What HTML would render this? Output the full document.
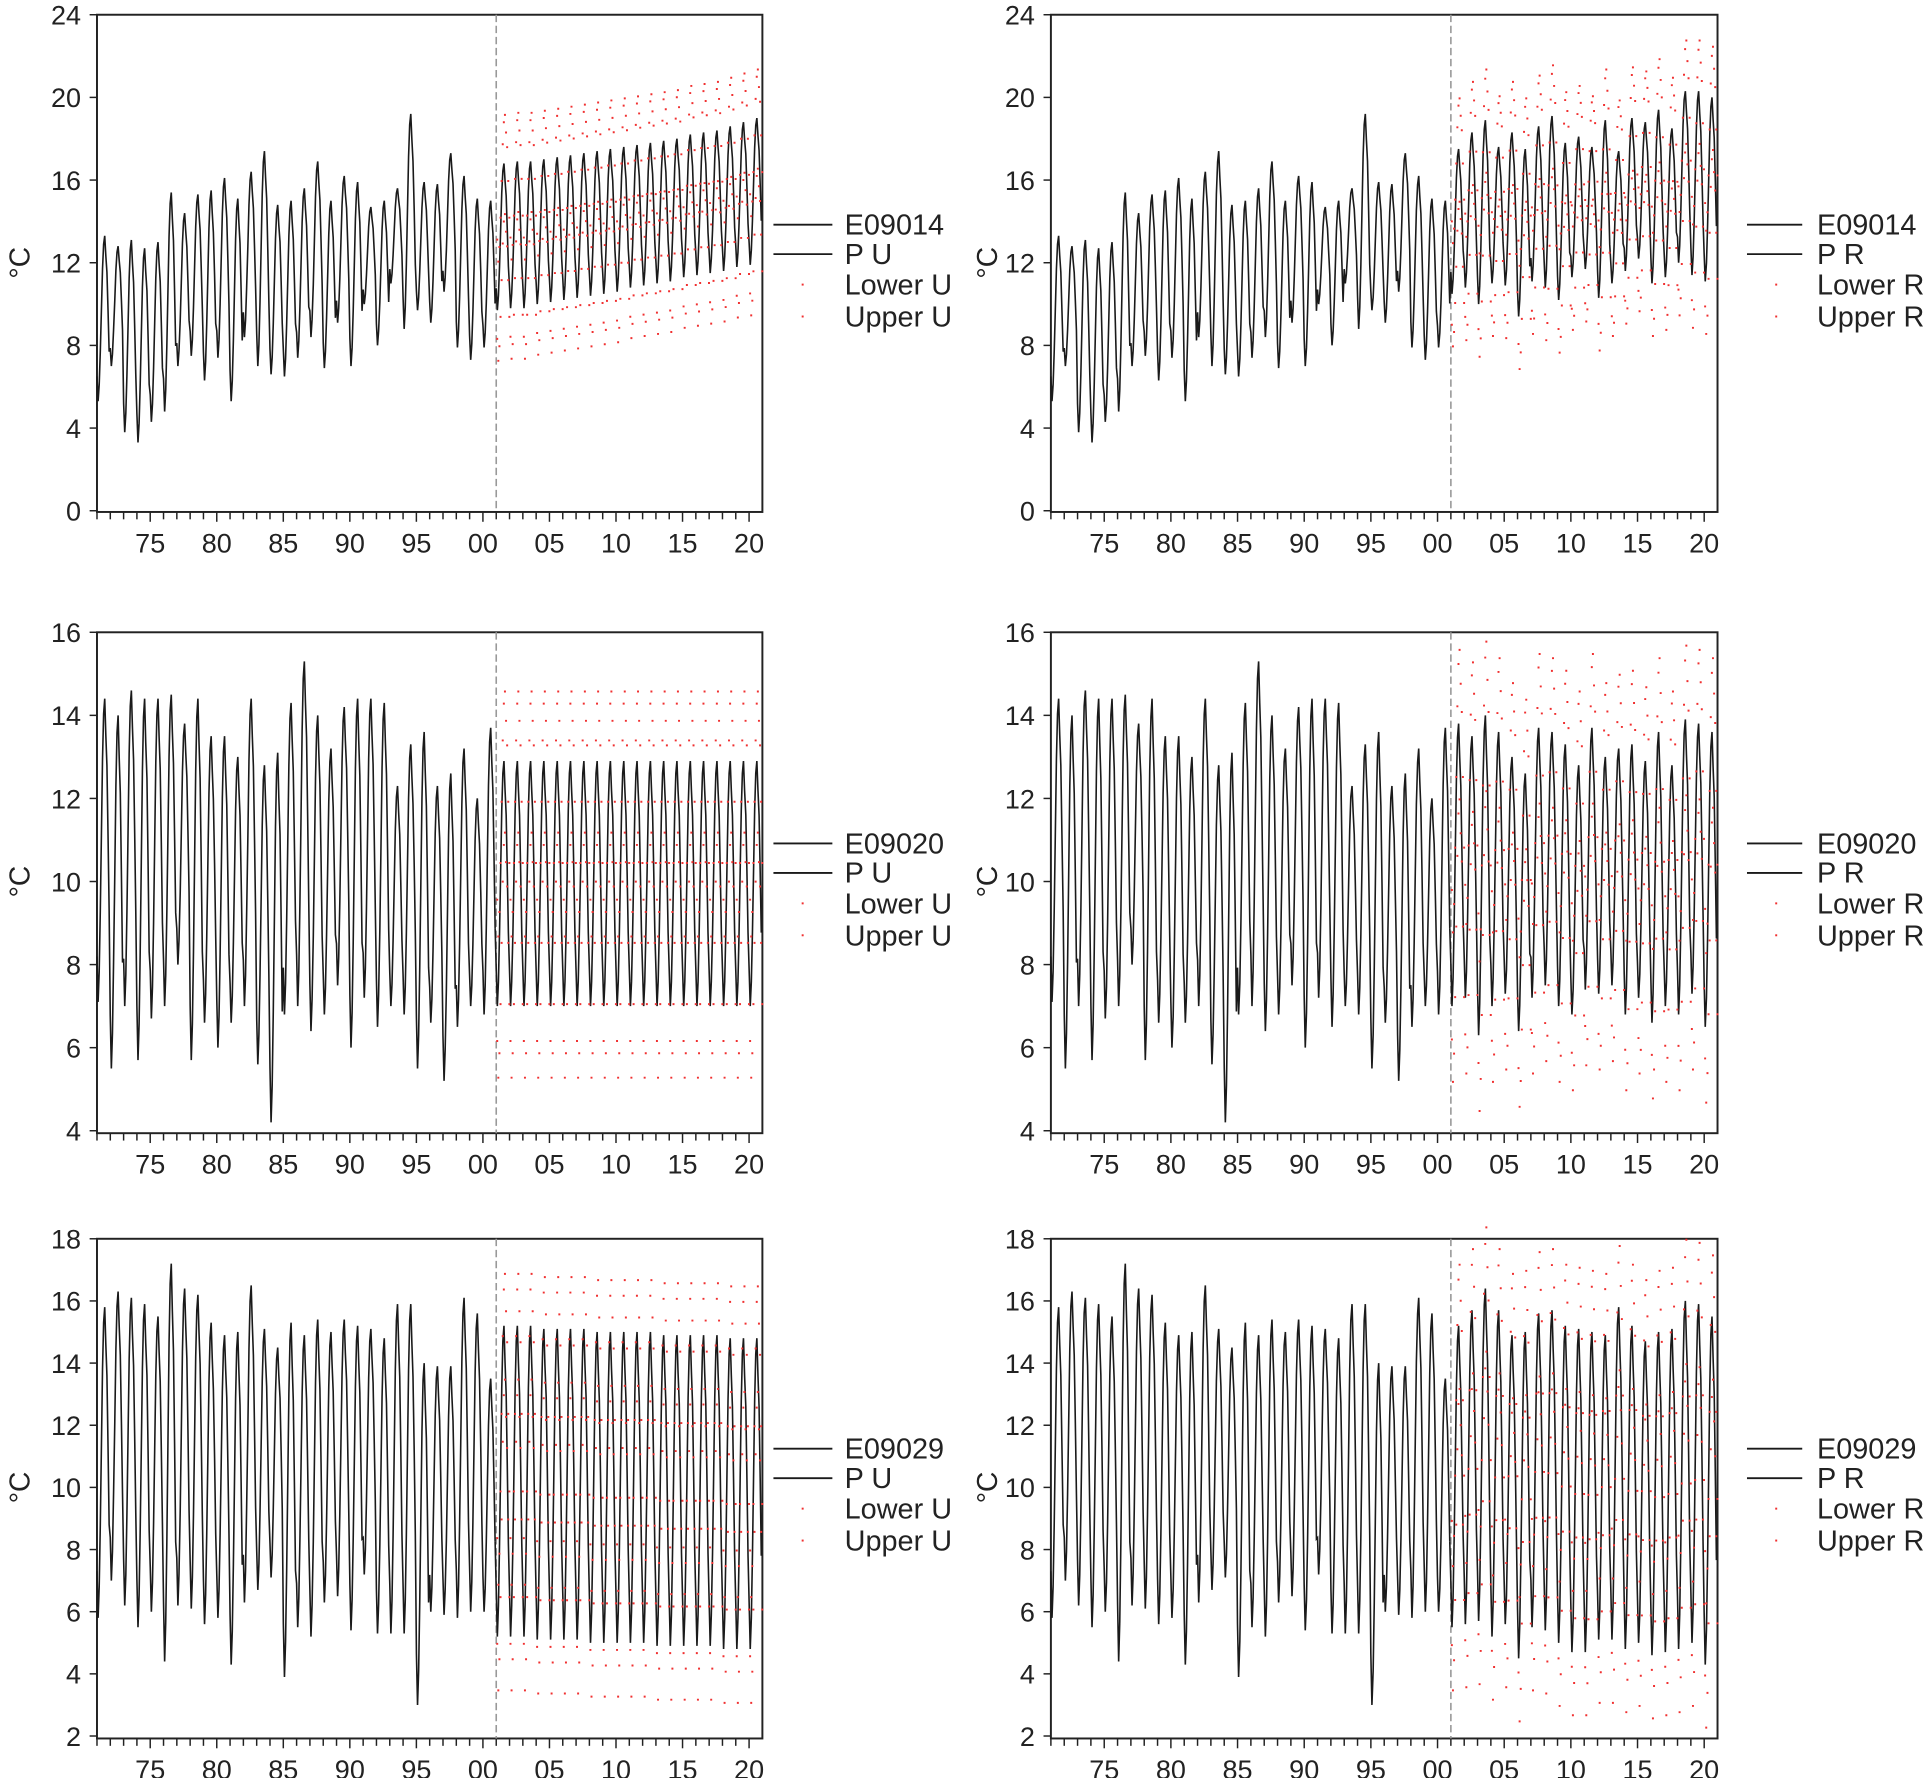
<!DOCTYPE html>
<html><head><meta charset="utf-8"><style>
html,body{margin:0;padding:0;background:#fff}
svg{display:block}
text{font-family:"Liberation Sans",Arial,sans-serif;fill:#222}
</style></head><body>
<svg id="chart" width="1925" height="1778" viewBox="0 0 1568 1448.2" preserveAspectRatio="none" xmlns="http://www.w3.org/2000/svg"></svg>
<script>
// ---- data ----
const years = [1971,1972,1973,1974,1975,1976,1977,1978,1979,1980,1981,1982,1983,1984,1985,1986,1987,1988,1989,1990,1991,1992,1993,1994,1995,1996,1997,1998,1999,2000];
const fyears = [2001,2002,2003,2004,2005,2006,2007,2008,2009,2010,2011,2012,2013,2014,2015,2016,2017,2018,2019,2020];
const seasonShape = [0.15,0,0.1,0.3,0.55,0.8,0.95,1.0,0.88,0.78,0.55,0.3];
const xTickLabels = ["75","80","85","90","95","00","05","10","15","20"];

const s1Max = [13.3,12.8,13.1,12.7,13.0,15.4,14.4,15.3,15.5,16.1,15.1,16.4,17.4,14.8,15.0,15.6,16.9,15.0,16.2,15.9,14.7,15.0,15.6,19.2,15.9,15.8,17.3,16.2,15.1,15.0];
const s1Min = [5.3,7.0,3.8,3.3,4.3,4.8,7.0,7.5,6.3,7.4,5.3,8.4,7.0,6.6,6.5,7.4,8.4,6.9,9.1,7.0,10.0,8.0,11.0,8.8,9.7,9.1,10.6,7.9,7.3,7.9];
const s1PUMax = [16.8,16.9,16.9,17.0,17.1,17.2,17.3,17.4,17.5,17.6,17.7,17.8,17.9,18.0,18.2,18.3,18.4,18.6,18.8,19.0];
const s1PUMin = [9.7,9.8,9.8,10.0,10.1,10.2,10.3,10.4,10.5,10.6,10.8,10.9,11.0,11.1,11.3,11.4,11.5,11.6,11.8,11.9];
const s1PRMax = [17.5,18.3,18.9,17.6,18.3,17.5,18.6,19.1,17.8,18.1,17.6,18.9,17.4,19.0,18.8,19.4,18.5,20.3,20.3,20.0];
const s1PRMin = [10.5,10.8,10.0,11.0,10.9,9.4,11.1,10.8,10.2,11.3,11.7,10.3,11.0,11.6,12.2,11.0,11.3,12.0,11.4,11.1];
const s1Band = [2.4,2.5];

const s2Max = [14.4,14.0,14.6,14.4,14.4,14.5,13.8,14.4,13.5,13.5,13.0,14.4,12.8,13.1,14.3,15.3,14.0,13.2,14.2,14.4,14.4,14.3,12.3,13.3,13.6,12.3,12.6,13.2,12.0,13.7];
const s2Min = [7.1,5.5,7.0,5.7,6.7,7.0,8.0,5.7,6.6,6.0,6.6,7.0,5.6,4.2,6.8,7.0,6.4,6.8,7.5,6.0,7.2,6.5,7.0,6.8,5.5,6.6,5.2,6.5,7.0,6.8];
const s2PUMax = [12.9,12.9,12.9,12.9,12.9,12.9,12.9,12.9,12.9,12.9,12.9,12.9,12.9,12.9,12.9,12.9,12.9,12.9,12.9,12.9];
const s2PUMin = [7.0,7.0,7.0,7.0,7.0,7.0,7.0,7.0,7.0,7.0,7.0,7.0,7.0,7.0,7.0,7.0,7.0,7.0,7.0,7.0];
const s2PRMax = [13.8,13.5,14.0,13.6,13.0,12.6,13.7,13.6,13.3,12.8,13.7,13.0,13.2,13.3,12.9,13.6,12.8,13.9,13.8,13.6];
const s2PRMin = [7.0,7.2,6.3,7.0,7.3,6.4,7.2,7.5,7.0,6.8,7.4,7.3,7.5,6.8,7.2,6.6,7.0,6.8,7.3,6.5];
const s2Band = [1.7,1.8];

const s3Max = [15.8,16.3,16.1,15.9,15.5,17.2,16.4,16.2,15.3,14.9,15.0,16.5,15.1,14.5,15.3,14.9,15.4,15.0,15.4,15.2,15.1,14.8,15.9,15.9,14.0,13.9,13.9,16.1,15.6,13.5];
const s3Min = [5.8,7.0,6.2,5.5,6.0,4.4,6.2,6.1,5.6,5.8,4.3,6.3,6.7,7.1,3.9,5.5,5.2,6.3,6.5,5.4,7.2,5.3,5.3,5.3,3.0,6.0,5.9,5.8,6.0,6.0];
const s3PUMax = [15.2,15.2,15.2,15.1,15.1,15.1,15.1,15.0,15.0,15.0,15.0,15.0,14.9,14.9,14.9,14.9,14.9,14.8,14.8,14.8];
const s3PUMin = [5.2,5.2,5.2,5.1,5.1,5.1,5.1,5.0,5.0,5.0,5.0,5.0,4.9,4.9,4.9,4.9,4.9,4.8,4.8,4.8];
const s3PRMax = [15.2,15.7,16.4,15.7,14.9,15.0,15.6,15.7,15.2,15.1,15.0,14.9,15.8,15.2,14.7,15.0,15.1,16.0,15.9,15.5];
const s3PRMin = [5.5,5.6,5.7,5.2,5.6,4.5,5.5,5.4,5.0,4.7,4.7,5.1,5.1,4.8,5.0,4.6,4.7,4.8,5.0,4.3];
const s3Band = [1.7,2.0];

const panels = [
 {id:"E09014",kind:"U",hist:[s1Max,s1Min],fc:[s1PUMax,s1PUMin],band:s1Band[0],x0:79,x1:621,yt:12,yb:416,vmin:0,vmax:24,step:4,fb:417},
 {id:"E09014",kind:"R",hist:[s1Max,s1Min],fc:[s1PRMax,s1PRMin],band:s1Band[1],x0:856,x1:1399,yt:12,yb:416,vmin:0,vmax:24,step:4,fb:417},
 {id:"E09020",kind:"U",hist:[s2Max,s2Min],fc:[s2PUMax,s2PUMin],band:s2Band[0],x0:79,x1:621,yt:515,yb:921,vmin:4,vmax:16,step:2,fb:923},
 {id:"E09020",kind:"R",hist:[s2Max,s2Min],fc:[s2PRMax,s2PRMin],band:s2Band[1],x0:856,x1:1399,yt:515,yb:921,vmin:4,vmax:16,step:2,fb:923},
 {id:"E09029",kind:"U",hist:[s3Max,s3Min],fc:[s3PUMax,s3PUMin],band:s3Band[0],x0:79,x1:621,yt:1009,yb:1414,vmin:2,vmax:18,step:2,fb:1416},
 {id:"E09029",kind:"R",hist:[s3Max,s3Min],fc:[s3PRMax,s3PRMin],band:s3Band[1],x0:856,x1:1399,yt:1009,yb:1414,vmin:2,vmax:18,step:2,fb:1416}
];

const NS="http://www.w3.org/2000/svg";
const svg=document.getElementById("chart");
function mk(tag,attrs,parent){const e=document.createElementNS(NS,tag);for(const k in attrs)e.setAttribute(k,attrs[k]);(parent||svg).appendChild(e);return e;}

panels.forEach((p,pi)=>{
  const g=mk("g",{});
  
  
  const X=t=>p.x0+(t-1971)*(p.x1-p.x0)/50;
  const Y=v=>p.yb-(v-p.vmin)*(p.yb-p.yt)/(p.vmax-p.vmin);
  const fr=mk("rect",{x:p.x0,y:p.yt,width:p.x1-p.x0,height:p.fb-p.yt,fill:"none",stroke:"#222","stroke-width":1.6},g);
  
  
  for(let v=p.vmin;v<=p.vmax;v+=p.step){
    mk("line",{x1:p.x0-6,x2:p.x0,y1:Y(v),y2:Y(v),stroke:"#222","stroke-width":1.2},g);
    const t=mk("text",{x:p.x0-13,y:Y(v)+8,"text-anchor":"end","font-size":22},g);
    t.textContent=v;
    
    
  }
  for(let yr=1971;yr<=2020;yr++){
    const major=(yr%5===0);
    mk("line",{x1:X(yr),x2:X(yr),y1:p.fb,y2:p.fb+(major?8:6),stroke:"#222","stroke-width":1.2},g);
  }
  xTickLabels.forEach((lb,i)=>{
    const yr=1975+5*i;
    const t=mk("text",{x:X(yr),y:p.fb+33,"text-anchor":"middle","font-size":22},g);
    t.textContent=lb;
    
    
  });
  const cx=(p.x0<500)?24:812, cy=(p.yt+p.yb)/2;
  const yt=mk("text",{x:cx,y:cy,"text-anchor":"middle","font-size":23,transform:`rotate(-90 ${cx} ${cy})`},g);
  yt.textContent="°C";
  
  
  const dl=mk("line",{x1:X(2001),x2:X(2001),y1:p.yt,y2:p.fb,stroke:"#999","stroke-width":1.3,"stroke-dasharray":"6,3"},g);
  
  
  let pts=[];
  years.forEach((yr,i)=>{seasonShape.forEach((s,m)=>{pts.push([X(yr+m/12),Y(p.hist[1][i]+(p.hist[0][i]-p.hist[1][i])*s)]);});});
  const hl=mk("polyline",{points:pts.map(q=>q[0].toFixed(1)+","+q[1].toFixed(1)).join(" "),fill:"none",stroke:"#1a1a1a","stroke-width":1.3},g);
  
  
  let fpts=[pts[pts.length-1]], dots="";
  fyears.forEach((yr,i)=>{seasonShape.forEach((s,m)=>{
    const v=p.fc[1][i]+(p.fc[0][i]-p.fc[1][i])*s;
    const x=X(yr+m/12);
    fpts.push([x,Y(v)]);
    const up=Y(v+p.band), lo=Y(v-p.band);
    dots+=`M${x.toFixed(1)} ${up.toFixed(1)}h1.6v1.6h-1.6zM${x.toFixed(1)} ${lo.toFixed(1)}h1.6v1.6h-1.6z`;
  });});
  const fl=mk("polyline",{points:fpts.map(q=>q[0].toFixed(1)+","+q[1].toFixed(1)).join(" "),fill:"none",stroke:"#1a1a1a","stroke-width":1.3},g);
  
  
  const dp=mk("path",{d:dots,fill:"#f03030"},g);
  
  
  const lx=(p.x0<500)?630:1423, tx=(p.x0<500)?688:1480;
  const ly=[183,207,232,258].map(v=>v+(pi>>1===1?504:(pi>>1===2?997:0)));
  const labels=[p.id,"P "+p.kind,"Lower "+p.kind,"Upper "+p.kind];
  labels.forEach((lb,k)=>{
    const lg=mk("g",{},g);
    
    
    if(k<2) mk("line",{x1:lx,x2:lx+(p.x0<500?48:45),y1:ly[k],y2:ly[k],stroke:"#1a1a1a","stroke-width":1.5},lg);
    else mk("rect",{x:lx+23,y:ly[k]-1,width:1.6,height:1.6,fill:"#f03030"},lg);
    const t=mk("text",{x:tx,y:ly[k]+8,"font-size":23.5},lg);
    t.textContent=lb;
  });
});
</script>
</body></html>
